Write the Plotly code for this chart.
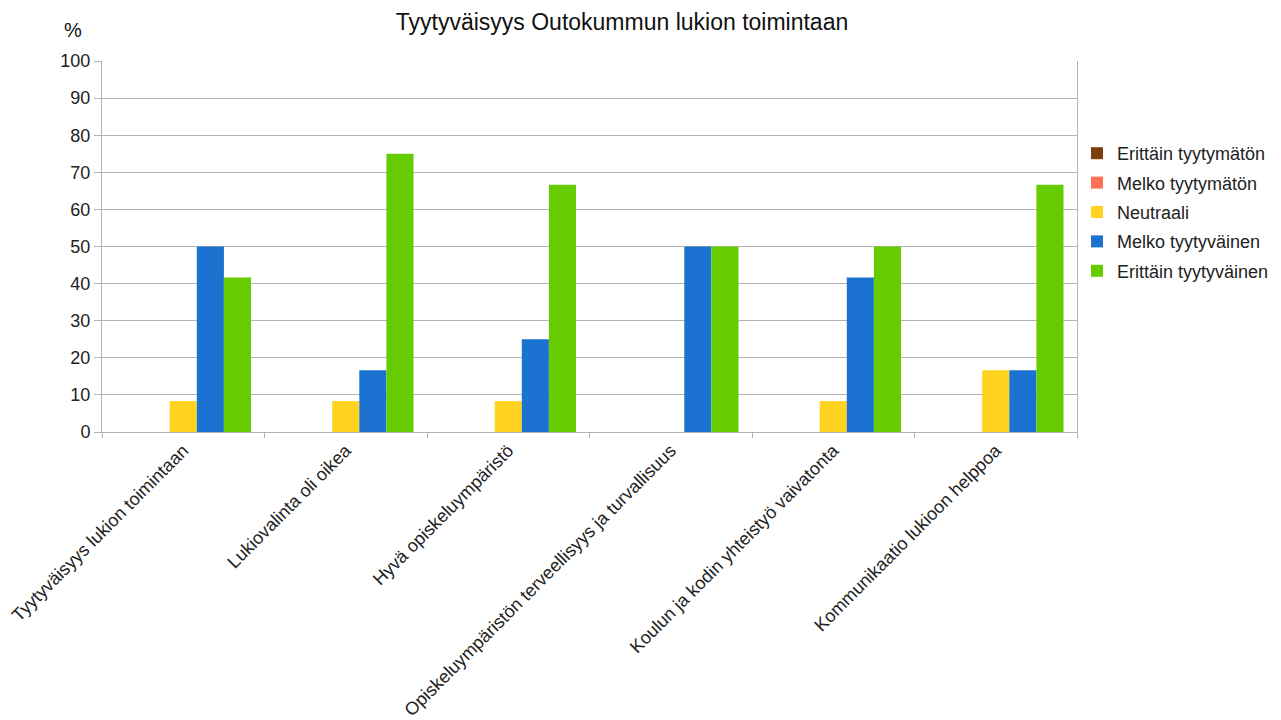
import plotly.graph_objects as go

categories = [
    "Tyytyväisyys lukion toimintaan",
    "Lukiovalinta oli oikea",
    "Hyvä opiskeluympäristö",
    "Opiskeluympäristön terveellisyys ja turvallisuus",
    "Koulun ja kodin yhteistyö vaivatonta",
    "Kommunikaatio lukioon helppoa",
]
erittain_tyytymaton = [0, 0, 0, 0, 0, 0]
melko_tyytymaton = [0, 0, 0, 0, 0, 0]
neutraali = [8.33, 8.33, 8.33, 0, 8.33, 16.67]
melko_tyytyvainen = [50, 16.67, 25, 50, 41.67, 16.67]
erittain_tyytyvainen = [41.67, 75, 66.67, 50, 50, 66.67]

series = [
    ("Erittäin tyytymätön", erittain_tyytymaton, "#7e3f0a"),
    ("Melko tyytymätön", melko_tyytymaton, "#ff7058"),
    ("Neutraali", neutraali, "#ffd320"),
    ("Melko tyytyväinen", melko_tyytyvainen, "#1c72d0"),
    ("Erittäin tyytyväinen", erittain_tyytyvainen, "#66cc00"),
]

fig = go.Figure()
for i, (name, vals, col) in enumerate(series):
    fig.add_trace(go.Bar(x=categories, y=vals, name=name, legendgroup="g%d" % i,
                         marker=dict(color=col, line=dict(width=0))))

# page body has an 8px margin; compensate
OFF = 8
L, T, PW, PH = 102 - OFF, 61 - OFF, 975, 371
W, H = 1281 - OFF, 720 - OFF

font = "Liberation Sans, Arial, sans-serif"
fig.update_layout(
    width=W, height=H,
    barmode="group", bargap=0.166, bargroupgap=0,
    plot_bgcolor="white", paper_bgcolor="white",
    margin=dict(l=L, r=W - L - PW, t=T, b=H - T - PH, autoexpand=False),
    font=dict(family=font, size=18, color="#222222"),
    title=dict(text="Tyytyväisyys Outokummun lukion toimintaan", x=(622 - OFF) / W, xanchor="center",
               y=1 - (22 - OFF) / H, yanchor="middle", font=dict(size=23, color="#111111")),
    legend=dict(x=(1077 - 102) / PW, y=(432 - 212) / PH, xanchor="left", yanchor="middle",
                font=dict(size=18, color="#222222"), itemwidth=30, bgcolor="rgba(0,0,0,0)",
                tracegroupgap=3),
    showlegend=True,
    annotations=[dict(text="%", x=(73 - 102) / PW, y=(432 - 30) / PH, xref="paper", yref="paper",
                      showarrow=False, xanchor="center", yanchor="middle", font=dict(size=20, color="#111111"))],
)

fig.update_xaxes(
    type="category", tickson="boundaries", ticks="outside", ticklen=5, tickcolor="#b3b3b3",
    showgrid=False, showline=True, linecolor="#b3b3b3", linewidth=1, tickangle=-45,
    tickfont=dict(size=18, color="#222222"),
)
fig.update_yaxes(
    range=[0, 100], dtick=10, ticks="outside", ticklen=7, tickcolor="#b3b3b3",
    showgrid=True, gridcolor="#b3b3b3", gridwidth=1, showline=True, linecolor="#b3b3b3",
    mirror=True, zeroline=False, tickfont=dict(size=18, color="#222222"),
)
fig.write_html("out.html")
